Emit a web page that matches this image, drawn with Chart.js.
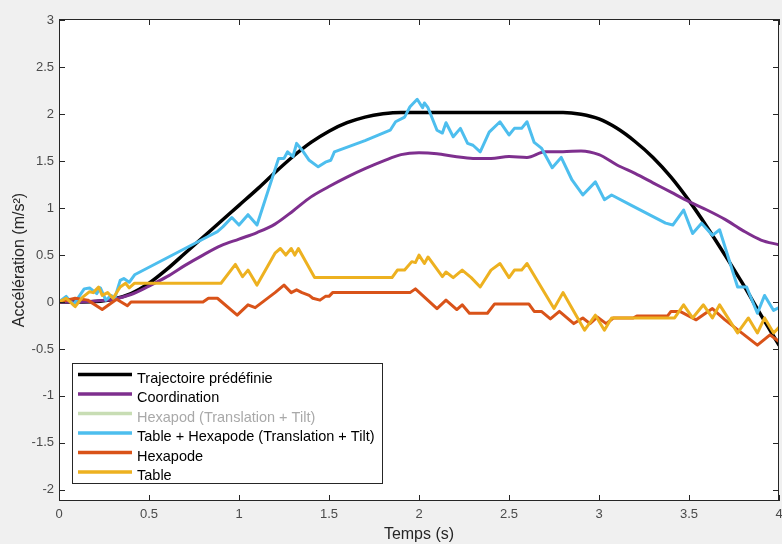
<!DOCTYPE html>
<html>
<head>
<meta charset="utf-8">
<script src="https://cdn.jsdelivr.net/npm/chart.js@4.4.0/dist/chart.umd.min.js"></script>
<style>
    html, body { margin: 0; padding: 0; background: #f0f0f0; }
    canvas { display: block; }
</style>
</head>
<body>
<canvas id="accelChart" width="782" height="544"></canvas>
<script>
// smooth curves, sampled every 0.1 s
const timeRef = [0, 0.1, 0.2, 0.3, 0.4, 0.5, 0.6, 0.7, 0.8, 0.9, 1, 1.1, 1.2, 1.3, 1.4, 1.5, 1.6, 1.7, 1.8, 1.9,
    2, 2.1, 2.2, 2.3, 2.4, 2.5, 2.6, 2.7, 2.8, 2.9, 3, 3.1, 3.2, 3.3, 3.4, 3.5, 3.6, 3.7, 3.8, 3.9, 4];
const trajectoire = [0, 0, 0.005, 0.03, 0.09, 0.2, 0.35, 0.52, 0.69, 0.86, 1.03, 1.2, 1.38, 1.55, 1.7, 1.82, 1.91, 1.97, 2.005, 2.02,
    2.02, 2.02, 2.02, 2.02, 2.02, 2.02, 2.02, 2.02, 2.02, 2.0, 1.95, 1.85, 1.71, 1.54, 1.33, 1.08, 0.8, 0.5, 0.19, -0.14, -0.46];
const coordination = [0, 0, 0.01, 0.03, 0.08, 0.17, 0.27, 0.39, 0.5, 0.6, 0.67, 0.74, 0.83, 0.97, 1.12, 1.23, 1.33, 1.42, 1.5, 1.57,
    1.59, 1.58, 1.55, 1.53, 1.53, 1.55, 1.54, 1.6, 1.6, 1.61, 1.57, 1.46, 1.37, 1.27, 1.17, 1.07, 0.98, 0.88, 0.76, 0.66, 0.61];

// noisy measured curves
const tTableHexa = [0, 0.04, 0.08, 0.14, 0.17, 0.21, 0.23, 0.26, 0.29, 0.31, 0.34, 0.36, 0.39, 0.42, 0.82, 0.88, 0.91, 0.96, 1.0, 1.05,
    1.1, 1.22, 1.25, 1.27, 1.3, 1.32, 1.35, 1.39, 1.44, 1.48, 1.51, 1.53, 1.7, 1.84, 1.87, 1.92, 1.95, 1.99, 2.02, 2.03,
    2.05, 2.1, 2.13, 2.15, 2.19, 2.23, 2.27, 2.3, 2.34, 2.39, 2.45, 2.5, 2.53, 2.57, 2.6, 2.64, 2.68, 2.74, 2.79, 2.85,
    2.91, 2.98, 3.03, 3.07, 3.18, 3.37, 3.41, 3.47, 3.52, 3.57, 3.63, 3.67, 3.77, 3.82, 3.88, 3.92, 3.97, 4.0];
const vTableHexa = [0, 0.06, -0.03, 0.14, 0.15, 0.09, 0.15, 0.02, 0.07, 0.04, 0.23, 0.25, 0.21, 0.29, 0.69, 0.75, 0.8, 0.9, 0.82, 0.93,
    0.82, 1.53, 1.53, 1.6, 1.55, 1.69, 1.62, 1.51, 1.44, 1.49, 1.51, 1.6, 1.72, 1.83, 1.92, 1.97, 2.08, 2.16, 2.07, 2.12,
    2.07, 1.83, 1.8, 1.91, 1.76, 1.85, 1.69, 1.67, 1.6, 1.81, 1.92, 1.78, 1.85, 1.85, 1.92, 1.7, 1.64, 1.43, 1.54, 1.3,
    1.14, 1.28, 1.09, 1.14, 1.03, 0.84, 0.82, 0.98, 0.73, 0.84, 0.71, 0.77, 0.16, 0.16, -0.12, 0.07, -0.09, -0.06];

const tHexapode = [0, 0.09, 0.16, 0.24, 0.32, 0.38, 0.4, 0.8, 0.83, 0.88, 0.99, 1.05, 1.09, 1.2, 1.25, 1.29, 1.32, 1.35, 1.39, 1.41,
    1.45, 1.48, 1.5, 1.52, 1.95, 1.98, 2.1, 2.15, 2.21, 2.24, 2.28, 2.38, 2.42, 2.61, 2.64, 2.68, 2.73, 2.78, 2.86, 2.91,
    2.95, 2.99, 3.04, 3.08, 3.19, 3.21, 3.38, 3.4, 3.45, 3.54, 3.63, 3.7, 3.88, 3.95, 4.0];
const vHexapode = [0, 0.04, 0.02, -0.08, 0.03, -0.04, 0, 0, 0.04, 0.04, -0.14, -0.03, -0.06, 0.1, 0.18, 0.1, 0.13, 0.1, 0.07, 0.04,
    0.02, 0.06, 0.06, 0.1, 0.1, 0.14, -0.07, 0.02, -0.08, -0.03, -0.12, -0.12, -0.02, -0.02, -0.1, -0.1, -0.18, -0.1, -0.23, -0.17,
    -0.23, -0.16, -0.23, -0.17, -0.17, -0.15, -0.15, -0.1, -0.1, -0.19, -0.07, -0.19, -0.46, -0.35, -0.42];

const tTable = [0, 0.04, 0.09, 0.13, 0.17, 0.19, 0.22, 0.24, 0.27, 0.3, 0.34, 0.37, 0.39, 0.42, 0.9, 0.98, 1.02, 1.05, 1.1, 1.2,
    1.23, 1.26, 1.29, 1.31, 1.33, 1.42, 1.85, 1.88, 1.92, 1.96, 1.98, 2.0, 2.03, 2.05, 2.13, 2.15, 2.19, 2.24, 2.29, 2.34,
    2.4, 2.45, 2.5, 2.53, 2.57, 2.6, 2.75, 2.8, 2.92, 2.98, 3.03, 3.07, 3.42, 3.47, 3.52, 3.58, 3.63, 3.67, 3.77, 3.83,
    3.88, 3.92, 3.97, 4.0];
const vTable = [0, 0.04, -0.05, 0.05, 0.11, 0.1, 0.16, 0.07, 0.1, 0.04, 0.16, 0.2, 0.15, 0.2, 0.2, 0.4, 0.27, 0.34, 0.18, 0.52,
    0.57, 0.5, 0.57, 0.5, 0.57, 0.26, 0.26, 0.34, 0.34, 0.43, 0.42, 0.5, 0.41, 0.48, 0.27, 0.32, 0.26, 0.34, 0.26, 0.16,
    0.34, 0.41, 0.26, 0.34, 0.34, 0.41, -0.07, 0.1, -0.3, -0.14, -0.3, -0.17, -0.17, -0.03, -0.17, -0.03, -0.17, -0.03, -0.33, -0.17,
    -0.33, -0.17, -0.33, -0.27];

const xTicks = [0, 0.5, 1, 1.5, 2, 2.5, 3, 3.5, 4];
const yTicks = [-2, -1.5, -1, -0.5, 0, 0.5, 1, 1.5, 2, 2.5, 3];

const FONT = 'Liberation Sans, Arial, Helvetica, sans-serif';
const AXIS_COLOR = '#262626';

function toPoints(ts, vs) {
    return ts.map((t, i) => ({x: t, y: vs[i]}));
}

// MATLAB-like frame: grey figure, white axes, inward ticks on all four sides
const matlabAxes = {
    id: 'matlabAxes',
    beforeDraw(chart) {
        const {ctx, chartArea: a} = chart;
        ctx.save();
        ctx.fillStyle = '#f0f0f0';
        ctx.fillRect(0, 0, chart.width, chart.height);
        ctx.fillStyle = '#ffffff';
        ctx.fillRect(a.left, a.top, a.right - a.left, a.bottom - a.top);
        ctx.restore();
    },
    afterDatasetsDraw(chart) {
        const {ctx, chartArea: a, scales: {x, y}} = chart;
        ctx.save();
        ctx.strokeStyle = AXIS_COLOR;
        ctx.lineWidth = 1;
        ctx.beginPath();
        xTicks.forEach(v => {
            const px = Math.round(x.getPixelForValue(v)) + 0.5;
            ctx.moveTo(px, a.bottom);
            ctx.lineTo(px, a.bottom - 6);
            ctx.moveTo(px, a.top);
            ctx.lineTo(px, a.top + 6);
        });
        yTicks.forEach(v => {
            const py = Math.round(y.getPixelForValue(v)) + 0.5;
            ctx.moveTo(a.left, py);
            ctx.lineTo(a.left + 6, py);
            ctx.moveTo(a.right, py);
            ctx.lineTo(a.right - 6, py);
        });
        ctx.stroke();
        ctx.strokeRect(a.left + 0.5, a.top + 0.5, a.right - a.left - 1, a.bottom - a.top - 1);
        ctx.restore();
    }
};

// boxed legend in the lower left corner
const legendBox = {
    id: 'legendBox',
    afterDraw(chart) {
        const ctx = chart.ctx;
        const textColors = ['#000', '#000', '#a9a9a9', '#000', '#000', '#000'];
        ctx.save();
        ctx.fillStyle = '#ffffff';
        ctx.fillRect(72, 363, 310, 120);
        ctx.strokeStyle = AXIS_COLOR;
        ctx.lineWidth = 1;
        ctx.strokeRect(72.5, 363.5, 310, 120);
        ctx.font = '14.5px ' + FONT;
        ctx.textBaseline = 'alphabetic';
        chart.data.datasets.forEach((ds, i) => {
            const ly = 374.5 + i * 19.5;
            ctx.strokeStyle = ds.borderColor;
            ctx.lineWidth = 3.5;
            ctx.beginPath();
            ctx.moveTo(78, ly);
            ctx.lineTo(132, ly);
            ctx.stroke();
            ctx.fillStyle = textColors[i];
            ctx.fillText(ds.label, 137, ly + 8);
        });
        ctx.restore();
    }
};

const ctx = document.getElementById('accelChart');

new Chart(ctx, {
    type: 'line',
    data: {
        datasets: [
            {
                label: 'Trajectoire prédéfinie',
                data: toPoints(timeRef, trajectoire),
                borderColor: '#000000',
                borderWidth: 3.5,
                cubicInterpolationMode: 'monotone',
                order: 6
            },
            {
                label: 'Coordination',
                data: toPoints(timeRef, coordination),
                borderColor: '#7e2f8e',
                borderWidth: 3,
                cubicInterpolationMode: 'monotone',
                order: 5
            },
            {
                label: 'Hexapod (Translation + Tilt)',
                data: [],
                borderColor: '#c8ddb4',
                borderWidth: 3,
                order: 4
            },
            {
                label: 'Table + Hexapode (Translation + Tilt)',
                data: toPoints(tTableHexa, vTableHexa),
                borderColor: '#4dbeee',
                borderWidth: 3,
                order: 3
            },
            {
                label: 'Hexapode',
                data: toPoints(tHexapode, vHexapode),
                borderColor: '#d95319',
                borderWidth: 3,
                order: 2
            },
            {
                label: 'Table',
                data: toPoints(tTable, vTable),
                borderColor: '#edb120',
                borderWidth: 3,
                order: 1
            }
        ]
    },
    options: {
        responsive: false,
        animation: false,
        events: [],
        layout: {
            padding: {left: 0, top: 19, right: 3, bottom: 0}
        },
        elements: {
            point: {radius: 0},
            line: {borderJoinStyle: 'round', borderCapStyle: 'round', tension: 0}
        },
        scales: {
            x: {
                type: 'linear',
                min: 0,
                max: 4,
                grid: {display: false, drawTicks: false},
                border: {display: false},
                ticks: {
                    padding: 6,
                    color: '#4a4a4a',
                    font: {family: FONT, size: 13},
                    maxRotation: 0,
                    autoSkip: false,
                    callback: v => String(v)
                },
                afterBuildTicks: s => { s.ticks = xTicks.map(v => ({value: v})); },
                afterFit: s => { s.height = 43; s.paddingLeft = 0; s.paddingRight = 0; },
                title: {
                    display: true,
                    text: 'Temps (s)',
                    color: '#262626',
                    font: {family: FONT, size: 16},
                    padding: {top: 0, bottom: 0}
                }
            },
            y: {
                type: 'linear',
                min: -2.12,
                max: 3.015,
                grid: {display: false, drawTicks: false},
                border: {display: false},
                ticks: {
                    padding: 5,
                    color: '#4a4a4a',
                    font: {family: FONT, size: 13},
                    autoSkip: false,
                    callback: v => String(v)
                },
                afterBuildTicks: s => { s.ticks = yTicks.map(v => ({value: v})); },
                afterFit: s => { s.width = 59; s.paddingTop = 0; s.paddingBottom = 0; },
                title: {
                    display: true,
                    text: 'Accélération (m/s²)',
                    color: '#262626',
                    font: {family: FONT, size: 16},
                    padding: {top: 10, bottom: 0}
                }
            }
        },
        plugins: {
            legend: {display: false},
            tooltip: {enabled: false}
        }
    },
    plugins: [matlabAxes, legendBox]
});
</script>
</body>
</html>
